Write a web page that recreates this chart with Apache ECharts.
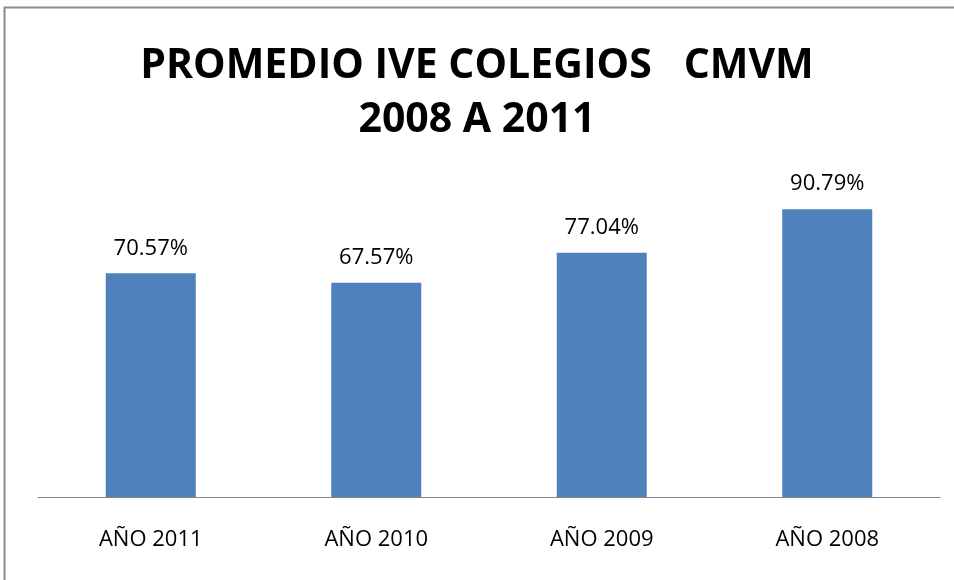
<!DOCTYPE html>
<html><head><meta charset="utf-8">
<script src="https://cdn.jsdelivr.net/npm/echarts@6/dist/echarts.min.js"></script>
<style>html,body{margin:0;padding:0;background:#fff}#c{width:954px;height:580px}</style>
</head><body><div id="c"></div>
<script>
const categories = ['AÑO 2011', 'AÑO 2010', 'AÑO 2009', 'AÑO 2008'];
const values = [70.57, 67.57, 77.04, 90.79];
const titleLines = ['PROMEDIO IVE COLEGIOS   CMVM', '2008 A 2011'];

const chart = echarts.init(document.getElementById('c'));
chart.setOption({
  backgroundColor: '#fff',
  animation: false,
  title: {
    text: titleLines.join('\n'),
    left: 'center', top: 34,
    textStyle: { fontFamily: '"Open Sans", sans-serif', fontWeight: 'bold', fontSize: 41, lineHeight: 54, color: '#000' }
  },
  graphic: [{
    type: 'rect', shape: { x: 4.5, y: 7.5, width: 1000, height: 1000 },
    style: { fill: 'none', stroke: '#8c8c8c', lineWidth: 2 }, silent: true
  }],
  grid: { left: 38, right: 14, top: 180, bottom: 83, containLabel: false },
  xAxis: {
    type: 'category', data: categories,
    axisLine: { lineStyle: { color: '#868686', width: 1 } },
    axisTick: { show: false },
    axisLabel: { margin: 32, fontFamily: '"Open Sans", sans-serif', fontSize: 22, color: '#000' }
  },
  yAxis: { type: 'value', min: 0, max: 100, show: false, splitLine: { show: false } },
  series: [{
    type: 'bar', data: values, barWidth: 90,
    itemStyle: { color: '#4F81BD' },
    label: {
      show: true, position: 'top', distance: 14,
      formatter: p => p.value.toFixed(2) + '%',
      fontFamily: '"Open Sans", sans-serif', fontSize: 22, color: '#000'
    }
  }]
});
</script></body></html>
